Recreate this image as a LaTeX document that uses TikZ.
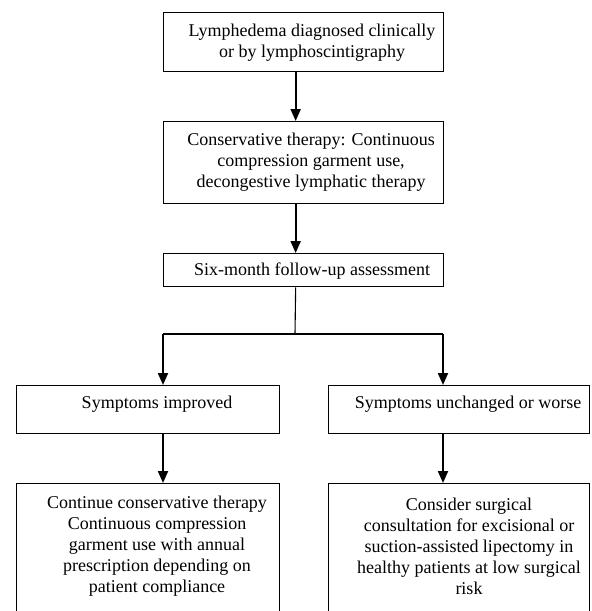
\documentclass[tikz,border=0pt]{standalone}
\usepackage{fontspec}
\setmainfont{Liberation Serif}
\usetikzlibrary{arrows.meta}
\begin{document}
\begin{tikzpicture}[x=1pt,y=-1pt,
  boxstyle/.style={draw=black,line width=1.3pt,inner sep=0pt,anchor=north west},
  txt/.style={align=center,inner sep=0pt,font=\fontsize{18}{21}\selectfont},
  arr/.style={line width=2pt,-{Triangle[length=12pt,width=10pt]}},
  thinline/.style={line width=1.1pt}]
\clip (0,0) rectangle (592,611);
\fill[white] (0,0) rectangle (592,611);
% boxes
\node[boxstyle,minimum width=280pt,minimum height=59pt] (b1) at (163,12) {};
\node[boxstyle,minimum width=280pt,minimum height=82pt] (b2) at (163,121) {};
\node[boxstyle,minimum width=280pt,minimum height=33pt] (b3) at (163,253) {};
\node[boxstyle,minimum width=263pt,minimum height=48pt] (b4) at (16,385) {};
\node[boxstyle,minimum width=261pt,minimum height=48pt] (b5) at (328,385) {};
\node[boxstyle,minimum width=263pt,minimum height=160pt] (b6) at (16,483) {};
\node[boxstyle,minimum width=261pt,minimum height=160pt] (b7) at (328,483) {};
% texts
\node[txt] (t1) at (312,43) {Lymphedema diagnosed clinically\\or by lymphoscintigraphy};
\node[txt] (t2) at (311,162) {Conservative therapy: Continuous\\compression garment use,\\decongestive lymphatic therapy};
\node[txt] (t3) at (312,271) {Six-month follow-up assessment};
\node[txt] (t4) at (157,404) {Symptoms improved};
\node[txt] (t5) at (468,404) {Symptoms unchanged or worse};
\node[txt] (t6) at (157,546) {Continue conservative therapy\\Continuous compression\\garment use with annual\\prescription depending on\\patient compliance};
\node[txt] (t7) at (469,546) {Consider surgical\\consultation for excisional or\\suction-assisted lipectomy in\\healthy patients at low surgical\\risk};
% connectors
\coordinate (split) at (295,334);
\coordinate (sl) at (163,334);
\coordinate (sr) at (443,334);
\draw[arr] ([xshift=-8pt]b1.south) -- ([xshift=-8pt]b2.north);
\draw[arr] ([xshift=-8pt]b2.south) -- ([xshift=-8pt]b3.north);
\draw[thinline] ([xshift=-8pt]b3.south) -- (split);
\draw[thinline] (sl) -- (sr);
\draw[arr] (sl) -- (sl |- b4.north);
\draw[arr] (sr) -- (sr |- b5.north);
\draw[arr] (sl |- b4.south) -- (sl |- b6.north);
\draw[arr] (sr |- b5.south) -- (sr |- b7.north);
\end{tikzpicture}
\end{document}
